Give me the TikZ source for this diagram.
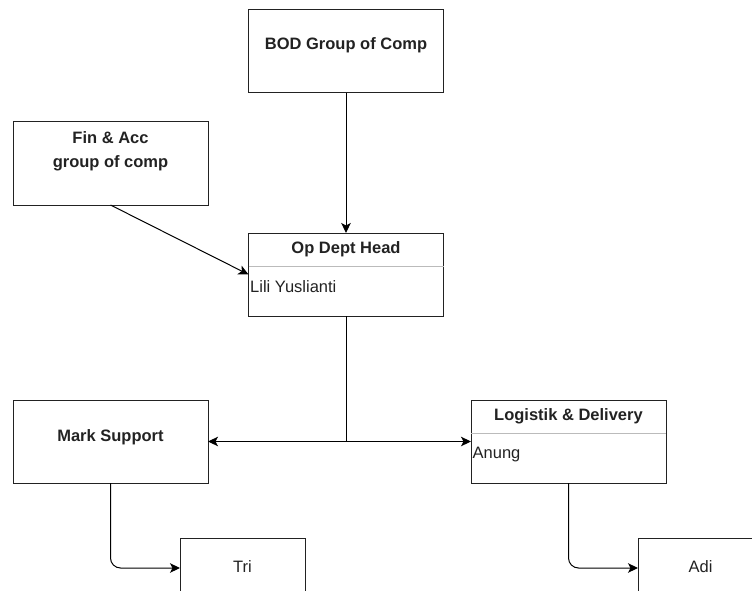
\documentclass[tikz,border=0pt]{standalone}
\usepackage{fontspec}
\setmainfont{Liberation Sans}
\usepackage{xcolor}
\usepackage{tikz}
\usetikzlibrary{positioning,arrows.meta}
\definecolor{ink}{HTML}{222222}
\definecolor{lanerule}{HTML}{BBBBBB}
\tikzset{
  box/.style={rectangle,draw=ink,line width=1pt,minimum width=195pt,
    minimum height=83pt,inner sep=0pt,outer sep=0pt},
  sbox/.style={box,minimum width=125pt,minimum height=60pt},
  ttl/.style={font=\fontsize{16.5}{24.5}\selectfont\bfseries,text=ink,
    align=center,inner sep=0pt,anchor=base},
  txt/.style={font=\fontsize{16.5}{20}\selectfont,text=ink,inner sep=0pt,anchor=base},
  lane/.style={draw=lanerule,line width=1pt},
  fl/.style={-{Stealth[length=10pt,width=9.5pt,inset=2.5pt]},draw=black,line width=1pt},
}
\begin{document}
\begin{tikzpicture}[x=1pt,y=-1pt]
  \useasboundingbox (0,0) rectangle (752,591);
  \clip (0,0) rectangle (752,591);
  \node[box] (bod) at (346,51.5) {};
  \node[box] (fin) at (110.5,163.5) {};
  \node[box,below=140pt of bod] (op) {};
  \node[box] (mark) at (110.5,441.5) {};
  \node[box,right=263pt of mark] (log) {};
  \node[sbox,anchor=north west] (tri) at (180,538) {};
  \node[sbox,anchor=north west] (adi) at (638,538) {};
  \draw[lane] ([yshift=-33pt]op.north west) -- ([yshift=-33pt]op.north east);
  \draw[lane] ([yshift=-33pt]log.north west) -- ([yshift=-33pt]log.north east);
  \node[ttl] (bodt) at ([yshift=2.2pt]bod.center) {BOD Group of Comp};
  \node[ttl,anchor=center] (fint) at ([yshift=12pt]fin.center) {Fin \& Acc\\group of comp};
  \node[ttl] (opt) at ([yshift=-20.3pt]op.north) {Op Dept Head};
  \node[txt,anchor=base west] (opname) at ([xshift=1.5pt,yshift=-59pt]op.north west) {Lili Yuslianti};
  \node[ttl] (markt) at ([yshift=0.5pt]mark.center) {Mark Support};
  \node[ttl] (logt) at ([yshift=-20.7pt]log.north) {Logistik \& Delivery};
  \node[txt,anchor=base west] (logname) at ([xshift=1.5pt,yshift=-58.3pt]log.north west) {Anung};
  \node[txt] (trit) at ([yshift=-34.7pt]tri.north) {Tri};
  \node[txt] (adit) at ([yshift=-34.7pt]adi.north) {Adi};
  \draw[fl] (bod) -- (op);
  \draw[fl] (fin.south) -- (op.west);
  \draw[fl] (op.south) |- (mark.east);
  \draw[fl] (op.south) |- (log.west);
  \draw[fl,rounded corners=10pt] (mark.south) |- (tri.west);
  \draw[fl,rounded corners=10pt] (log.south) |- (adi.west);
\end{tikzpicture}
\end{document}
